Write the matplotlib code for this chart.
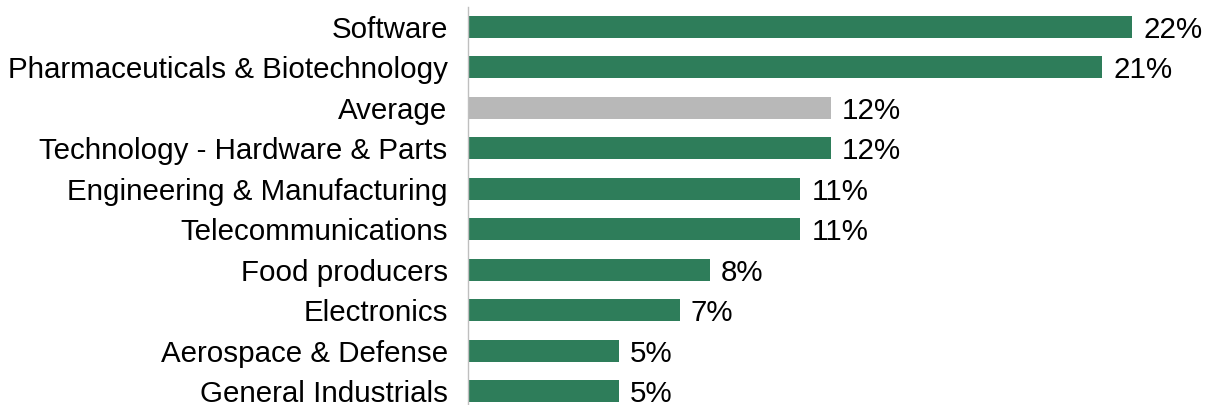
import matplotlib
matplotlib.use("Agg")
import matplotlib.pyplot as plt

categories = ["Software", "Pharmaceuticals & Biotechnology", "Average",
              "Technology - Hardware & Parts", "Engineering & Manufacturing",
              "Telecommunications", "Food producers", "Electronics",
              "Aerospace & Defense", "General Industrials"]
values = [22, 21, 12, 12, 11, 11, 8, 7, 5, 5]
labels = ["22%", "21%", "12%", "12%", "11%", "11%", "8%", "7%", "5%", "5%"]

green = "#2E7D5A"
grey = "#B8B8B8"
colors = [grey if c == "Average" else green for c in categories]

plt.rcParams['font.family'] = ['Liberation Sans', 'DejaVu Sans']
FS = 21.25

W, H = 1212, 405
fig = plt.figure(figsize=(W / 100, H / 100), dpi=100)
left_px, right_px = 468.5, 1212
top_px, bot_px = 7, 405
ax = fig.add_axes([left_px / W, 1 - bot_px / H, (right_px - left_px) / W, (bot_px - top_px) / H])

y = list(range(len(categories)))
ax.barh(y, values, height=0.545, color=colors)
ax.set_xlim(0, (right_px - left_px) / 30.18)
ax.set_ylim(9 + 14 / 40.44, -20 / 40.44)

for yi, v, lab in zip(y, values, labels):
    ax.text(v + 0.36, yi, lab, va="center_baseline", ha="left", fontsize=FS, color="black")

ax.set_yticks(y)
ax.set_yticklabels(categories, fontsize=FS, va="center_baseline")
ax.tick_params(axis="y", length=0, pad=15)
ax.set_xticks([])
for s in ["top", "right", "bottom"]:
    ax.spines[s].set_visible(False)
ax.spines["left"].set_color("#BFBFBF")
ax.spines["left"].set_linewidth(1.0)

fig.savefig("out.png", dpi=100)
